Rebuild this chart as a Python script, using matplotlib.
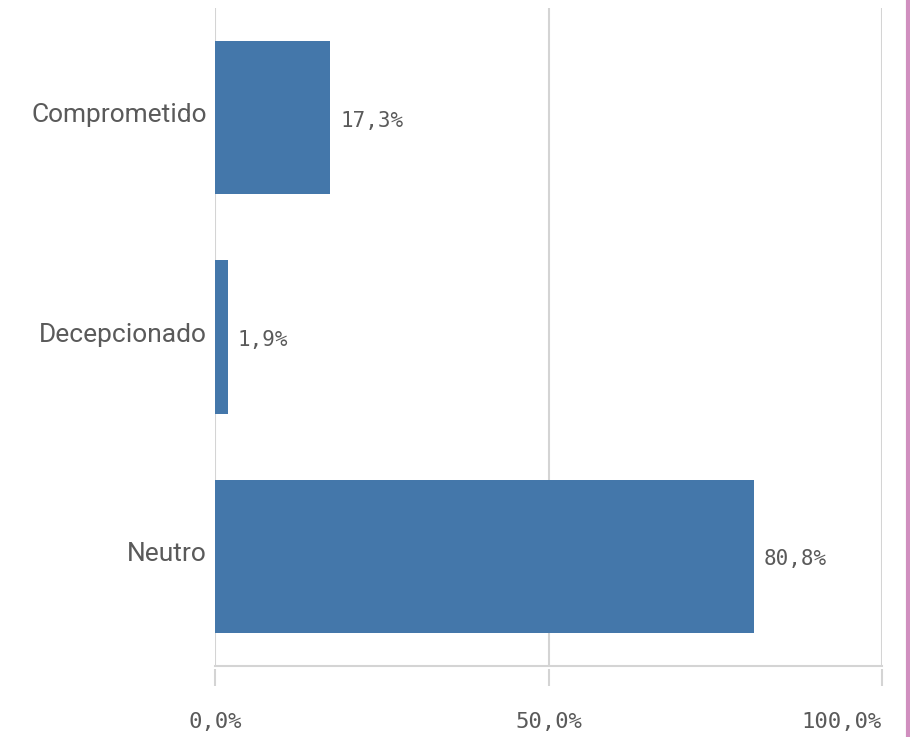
from matplotlib import pyplot as plt
import matplotlib.transforms as mtransforms
import numpy as np

categories = ["Comprometido", "Decepcionado", "Neutro"]
values = [17.3, 1.9, 80.8]
value_labels = ["17,3%", "1,9%", "80,8%"]
x_ticks = [0, 50, 100]
x_tick_labels = ["0,0%", "50,0%", "100,0%"]

BAR_COLOR = "#4477aa"
GRID_COLOR = "#d4d4d4"
TEXT_COLOR = "#5a5a5a"


def main():
    fig = plt.figure(figsize=(9.1, 7.37), dpi=100)
    ax = fig.add_axes([215 / 910, 1 - 666 / 737, 667 / 910, 658 / 737])

    y = np.arange(len(categories))
    ax.barh(y, values, height=0.7, color=BAR_COLOR, zorder=3)

    for yi, v, lab in zip(y, values, value_labels):
        ax.annotate(lab, (v, yi), xytext=(10, -3), textcoords="offset pixels",
                    ha="left", va="center", fontsize=15, color=TEXT_COLOR,
                    family="DejaVu Sans Mono")

    ax.set_ylim(len(categories) - 0.5, -0.5)
    ax.set_xlim(0, 100)

    ax.set_yticks(y)
    ylabels = ax.set_yticklabels(categories, fontsize=19, color=TEXT_COLOR,
                                 family="Roboto")
    ax.tick_params(axis="y", length=0, pad=5.8)
    # category labels sit a little above the bar centre
    shift = mtransforms.ScaledTranslation(0, 5 / 100, fig.dpi_scale_trans)
    for lab in ylabels:
        lab.set_transform(lab.get_transform() + shift)

    ax.set_xticks(x_ticks)
    ticklabels = ax.set_xticklabels(x_tick_labels, fontsize=16, color=TEXT_COLOR,
                                    family="DejaVu Sans Mono")
    ticklabels[-1].set_horizontalalignment("right")
    ax.tick_params(axis="x", length=0, pad=33)

    for x in x_ticks:
        ax.axvline(x, color=GRID_COLOR, lw=1.5, zorder=1)
    # short tick marks below the axis line, detached by a small gap
    trans = mtransforms.blended_transform_factory(ax.transData, ax.transAxes)
    ax.vlines(x_ticks, -0.005, -0.031, transform=trans, color=GRID_COLOR,
              lw=1.5, clip_on=False)

    for side in ["top", "right", "left"]:
        ax.spines[side].set_visible(False)
    ax.spines["bottom"].set_color(GRID_COLOR)
    ax.spines["bottom"].set_linewidth(1.5)

    # pink border on the right edge
    fig.add_artist(plt.Line2D([907.5 / 910, 907.5 / 910], [0, 1],
                              transform=fig.transFigure, color="#d18fbf", lw=3))

    fig.savefig("out.png", dpi=100)


if __name__ == '__main__':
    main()
